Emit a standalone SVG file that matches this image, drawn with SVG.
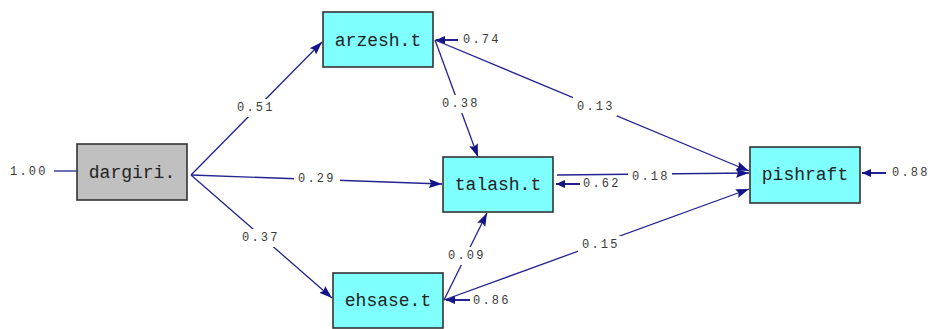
<svg xmlns="http://www.w3.org/2000/svg" width="930" height="329" viewBox="0 0 930 329">
<defs>
<style>
.node{stroke:#333;stroke-width:1.6}
.obs{fill:#80ffff}
.exo{fill:#c0c0c0}
.nt{font-family:"Liberation Mono","DejaVu Sans Mono",monospace;font-size:18px;fill:#222;text-anchor:middle;dominant-baseline:central}
.lb{font-family:"Liberation Mono","DejaVu Sans Mono",monospace;font-size:12px;fill:#3a3a3a;letter-spacing:2.2px;dominant-baseline:central}
.c{fill:none;stroke:#23238f;stroke-width:1.3}
.e{fill:none;stroke:#23238f;stroke-width:2}
.m{fill:#14148a}
.bg{fill:#fff}
</style>
<marker id="ah" markerUnits="userSpaceOnUse" markerWidth="14" markerHeight="10" refX="13" refY="5" orient="auto">
<path class="m" d="M0,0.5 L13,5 L0,9.5 L2,5 Z"/>
</marker>
<marker id="eh" markerUnits="userSpaceOnUse" markerWidth="10" markerHeight="8" refX="9" refY="4" orient="auto">
<path class="m" d="M0,0 L9,4 L0,8 Z"/>
</marker>
</defs>
<rect width="930" height="329" fill="#fff"/>
<g id="connectors">
<line class="c" x1="54" y1="171" x2="77" y2="171"/>
<line class="c" x1="191" y1="175" x2="322" y2="42" marker-end="url(#ah)"/>
<line class="c" x1="191" y1="175" x2="442" y2="184" marker-end="url(#ah)"/>
<line class="c" x1="191" y1="175" x2="332" y2="298" marker-end="url(#ah)"/>
<line class="c" x1="435" y1="40" x2="478" y2="157" marker-end="url(#ah)"/>
<line class="c" x1="435" y1="40" x2="749" y2="171" marker-end="url(#ah)"/>
<line class="c" x1="557" y1="175" x2="749" y2="173" marker-end="url(#ah)"/>
<line class="c" x1="444" y1="300" x2="487" y2="213" marker-end="url(#ah)"/>
<line class="c" x1="444" y1="300" x2="749" y2="189" marker-end="url(#ah)"/>
<line class="e" x1="458" y1="40" x2="436" y2="40" marker-end="url(#eh)"/>
<line class="e" x1="580" y1="184" x2="556" y2="184" marker-end="url(#eh)"/>
<line class="e" x1="470" y1="300" x2="446" y2="300" marker-end="url(#eh)"/>
<line class="e" x1="886" y1="173" x2="862" y2="173" marker-end="url(#eh)"/>
<rect class="bg" x="234" y="99" width="42" height="18"/>
<rect class="bg" x="294" y="171" width="46" height="17"/>
<rect class="bg" x="239" y="229" width="42" height="18"/>
<rect class="bg" x="440" y="95" width="40" height="18"/>
<rect class="bg" x="573" y="97" width="44" height="19"/>
<rect class="bg" x="628" y="168" width="44" height="17"/>
<rect class="bg" x="445" y="247" width="42" height="18"/>
<rect class="bg" x="578" y="236" width="43" height="19"/>
<text class="lb" x="237" y="108">0.51</text>
<text class="lb" x="298" y="179">0.29</text>
<text class="lb" x="242" y="238">0.37</text>
<text class="lb" x="442" y="104">0.38</text>
<text class="lb" x="577" y="107">0.13</text>
<text class="lb" x="632" y="177">0.18</text>
<text class="lb" x="448" y="256">0.09</text>
<text class="lb" x="582" y="245">0.15</text>
<text class="lb" x="10" y="172">1.00</text>
<text class="lb" x="463" y="40">0.74</text>
<text class="lb" x="583" y="184">0.62</text>
<text class="lb" x="473" y="301">0.86</text>
<text class="lb" x="892" y="173">0.88</text>
</g>
<g id="dargiri">
<rect class="node exo" x="77" y="144" width="110" height="56"/>
<text class="nt" x="132" y="173">dargiri.</text>
</g>
<g id="arzesh">
<rect class="node obs" x="323" y="12" width="110" height="55"/>
<text class="nt" x="378" y="41">arzesh.t</text>
</g>
<g id="talash">
<rect class="node obs" x="443" y="157" width="110" height="55"/>
<text class="nt" x="498" y="185">talash.t</text>
</g>
<g id="ehsase">
<rect class="node obs" x="333" y="273" width="110" height="55"/>
<text class="nt" x="388" y="301">ehsase.t</text>
</g>
<g id="pishraft">
<rect class="node obs" x="750" y="147" width="110" height="56"/>
<text class="nt" x="805" y="175">pishraft</text>
</g>
</svg>
